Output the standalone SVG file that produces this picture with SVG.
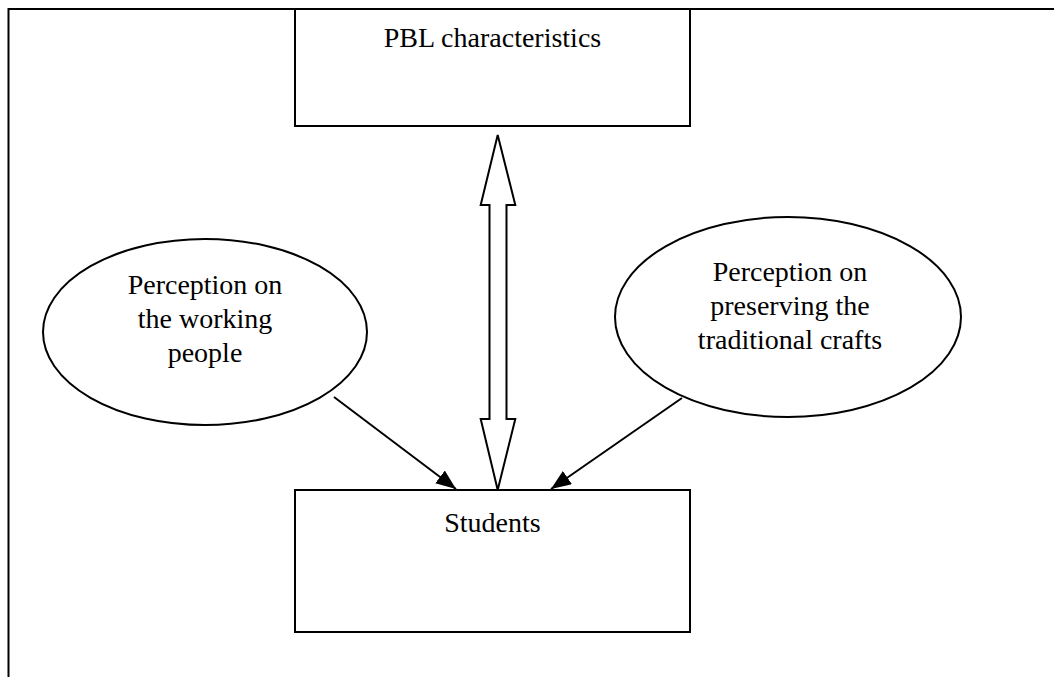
<svg xmlns="http://www.w3.org/2000/svg" width="1054" height="677" viewBox="0 0 1054 677">
<style>
.ln{fill:none;stroke:#000;stroke-width:2}
.sh{fill:#fff;stroke:#000;stroke-width:2}
.t{font-family:"Liberation Serif","Times New Roman",serif;font-size:28px;fill:#000;text-anchor:middle}
</style>
<defs>
<marker id="ah2" viewBox="0 0 20 16" refX="20" refY="8" markerWidth="20" markerHeight="16" orient="auto" markerUnits="userSpaceOnUse">
<path d="M0,0 L20,8 L0,16 z" fill="#000"/>
</marker>
</defs>
<rect width="1054" height="677" fill="#fff"/>
<g id="frame">
<line class="ln" x1="8.5" y1="9" x2="1054" y2="9"/>
<line class="ln" x1="8.5" y1="8" x2="8.5" y2="677"/>
</g>
<g id="pbl">
<rect class="sh" x="295" y="9" width="395" height="117"/>
<text class="t" x="492.5" y="47">PBL characteristics</text>
</g>
<g id="students">
<rect class="sh" x="295" y="490" width="395" height="142"/>
<text class="t" x="492.5" y="532">Students</text>
</g>
<g id="working">
<ellipse class="sh" cx="205" cy="332" rx="162" ry="93"/>
<text class="t" x="205" y="294">Perception on</text>
<text class="t" x="205" y="328">the working</text>
<text class="t" x="205" y="362">people</text>
</g>
<g id="crafts">
<ellipse class="sh" cx="788" cy="317" rx="173" ry="100"/>
<text class="t" x="790" y="281">Perception on</text>
<text class="t" x="790" y="315">preserving the</text>
<text class="t" x="790" y="349">traditional crafts</text>
</g>
<g id="connectors">
<path class="sh" d="M497.7,135 L515.3,205 L506.5,205 L506.5,419 L515.3,419 L497.7,490 L480.7,419 L489.5,419 L489.5,205 L480.7,205 Z" stroke-linejoin="miter"/>
<line class="ln" x1="334" y1="397" x2="456" y2="489" marker-end="url(#ah2)"/>
<line class="ln" x1="682" y1="398" x2="551" y2="489" marker-end="url(#ah2)"/>
</g>
</svg>
